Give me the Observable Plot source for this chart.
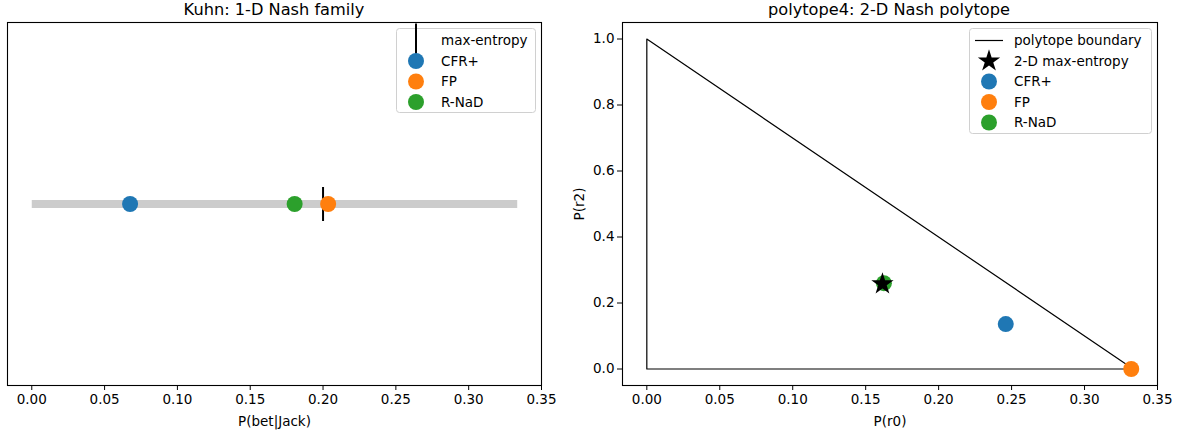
<!DOCTYPE html>
<html>
<head>
<meta charset="utf-8">
<script src="https://cdn.jsdelivr.net/npm/d3@7"></script>
<script src="https://cdn.jsdelivr.net/npm/@observablehq/plot@0.6"></script>
<style>
  html, body { margin: 0; padding: 0; background: #fff; }
  #wrap { position: relative; width: 1177px; height: 434px; font-family: "DejaVu Sans", sans-serif; }
  .title { position: absolute; top: 0; font-size: 16.2px; color: #000; white-space: nowrap; transform: translateX(-50%); line-height: 19px; }
  .panel { position: absolute; top: 0; }
</style>
</head>
<body>
<div id="wrap">
  <div class="panel" id="left"></div>
  <div class="panel" id="right" style="left:560px"></div>
  <div class="title" style="left:274px">Kuhn: 1-D Nash family</div>
  <div class="title" style="left:889px">polytope4: 2-D Nash polytope</div>
</div>
<script>
// ---------- data ----------
const methods = ["CFR+", "FP", "R-NaD"];
const methodColors = ["#1f77b4", "#ff7f0e", "#2ca02c"];

// Kuhn: 1-D Nash family
const kuhnFamilyEnds = [0, 1 / 3];
const kuhnMaxEntropy = [0.2];
const kuhnBetJack = [0.0675, 0.2035, 0.1805];

// polytope4: 2-D Nash polytope
const boundaryR0 = [0, 0, 1 / 3, 0];
const boundaryR2 = [0, 1, 0, 0];
const maxEntR0 = [0.1615];
const maxEntR2 = [0.2576];
const polyR0 = [0.2460, 0.3320, 0.1625];
const polyR2 = [0.1360, 0.0000, 0.2600];

const xTicks = [0, 0.05, 0.10, 0.15, 0.20, 0.25, 0.30, 0.35];
const yTicks = [0, 0.2, 0.4, 0.6, 0.8, 1.0];

// ---------- helpers ----------
const vbar = {
  draw(ctx, size) {
    const h = Math.sqrt(size / Math.PI);
    ctx.moveTo(0, -h);
    ctx.lineTo(0, h);
  }
};
const colorScale = {domain: methods, range: methodColors};
const baseStyle = {fontSize: "13.5px", fontFamily: "DejaVu Sans, sans-serif", color: "#000", background: "#fff", overflow: "visible"};

// ---------- left chart ----------
const familyLine = kuhnFamilyEnds.map(x => ({x, y: 0}));
const kuhnPts = methods.map((m, i) => ({method: m, x: kuhnBetJack[i], y: 0}));
const kuhnME = kuhnMaxEntropy.map(x => ({x, y: 0}));

const left = Plot.plot({
  width: 560, height: 434,
  marginLeft: 7, marginRight: 19, marginTop: 22, marginBottom: 49,
  style: baseStyle,
  x: {domain: [-1 / 60, 0.35], ticks: xTicks, tickFormat: d3.format(".2f"), label: "P(bet|Jack)", labelAnchor: "center", labelArrow: "none", labelOffset: 40, tickSize: 5, tickPadding: 4},
  y: {domain: [-1, 1], axis: null},
  color: colorScale,
  marks: [
    Plot.line(familyLine, {x: "x", y: "y", stroke: "#cccccc", strokeWidth: 8, strokeLinecap: "butt"}),
    Plot.dot(kuhnME, {x: "x", y: "y", symbol: vbar, r: 17, stroke: "black", strokeWidth: 2, fill: "none"}),
    Plot.dot(kuhnPts, {x: "x", y: "y", fill: "method", r: 8, stroke: "none"}),
    Plot.frame({stroke: "black", strokeWidth: 1.1})
  ]
});
document.getElementById("left").appendChild(left);

// ---------- right chart ----------
const boundary = boundaryR0.map((x, i) => ({x, y: boundaryR2[i]}));
const polyPts = methods.map((m, i) => ({method: m, x: polyR0[i], y: polyR2[i]}));
const maxEnt = maxEntR0.map((x, i) => ({x, y: maxEntR2[i]}));

const right = Plot.plot({
  width: 617, height: 434,
  marginLeft: 62, marginRight: 20, marginTop: 22, marginBottom: 49,
  style: baseStyle,
  x: {domain: [-1 / 60, 0.35], ticks: xTicks, tickFormat: d3.format(".2f"), label: "P(r0)", labelAnchor: "center", labelArrow: "none", labelOffset: 40, tickSize: 5, tickPadding: 4},
  y: {domain: [-0.05, 1.05], ticks: yTicks, tickFormat: d3.format(".1f"), label: "P(r2)", labelAnchor: "center", labelArrow: "none", labelOffset: 48, tickSize: 5, tickPadding: 3},
  color: colorScale,
  marks: [
    Plot.line(boundary, {x: "x", y: "y", stroke: "black", strokeWidth: 1.2}),
    Plot.dot(polyPts, {x: "x", y: "y", fill: "method", r: 8, stroke: "none"}),
    Plot.dot(maxEnt, {x: "x", y: "y", symbol: "star", r: 7, fill: "black", stroke: "none"}),
    Plot.frame({stroke: "black", strokeWidth: 1.1})
  ]
});
document.getElementById("right").appendChild(right);

// ---------- legends (inside axes, upper right) ----------
function addLegend(svgEl, bx, by, bw, bh, rows) {
  const svg = d3.select(svgEl);
  const g = svg.append("g")
    .attr("font-family", "DejaVu Sans, sans-serif")
    .attr("font-size", 13.5)
    .attr("text-anchor", "start");
  g.append("rect").attr("x", bx + 0.5).attr("y", by + 0.5).attr("width", bw).attr("height", bh)
    .attr("rx", 3).attr("fill", "white").attr("fill-opacity", 0.8).attr("stroke", "#d0d0d0").attr("stroke-width", 1);
  rows.forEach((r, i) => {
    const cy = by + 12.5 + i * 20.5;
    const hx = bx + 20;
    if (r.kind === "vbar") {
      g.append("line").attr("x1", hx).attr("x2", hx).attr("y1", cy - 17).attr("y2", cy + 17).attr("stroke", "black").attr("stroke-width", 2);
    } else if (r.kind === "line") {
      g.append("line").attr("x1", hx - 14).attr("x2", hx + 14).attr("y1", cy).attr("y2", cy).attr("stroke", "black").attr("stroke-width", 1.2);
    } else if (r.kind === "star") {
      g.append("path").attr("transform", `translate(${hx},${cy})`).attr("d", d3.symbol(d3.symbolStar, Math.PI * 49)()).attr("fill", "black");
    } else {
      g.append("circle").attr("cx", hx).attr("cy", cy).attr("r", 8).attr("fill", r.color);
    }
    g.append("text").attr("x", bx + 45).attr("y", cy).attr("dy", "0.35em")
      .attr("text-anchor", "start").attr("fill", "black").text(r.label);
  });
}

addLegend(left, 396, 28, 139, 84, [
  {kind: "vbar", label: "max-entropy"},
  ...methods.map((m, i) => ({kind: "dot", color: methodColors[i], label: m}))
]);
addLegend(right, 969 - 560, 28, 182, 105, [
  {kind: "line", label: "polytope boundary"},
  {kind: "star", label: "2-D max-entropy"},
  ...methods.map((m, i) => ({kind: "dot", color: methodColors[i], label: m}))
]);
</script>
</body>
</html>
